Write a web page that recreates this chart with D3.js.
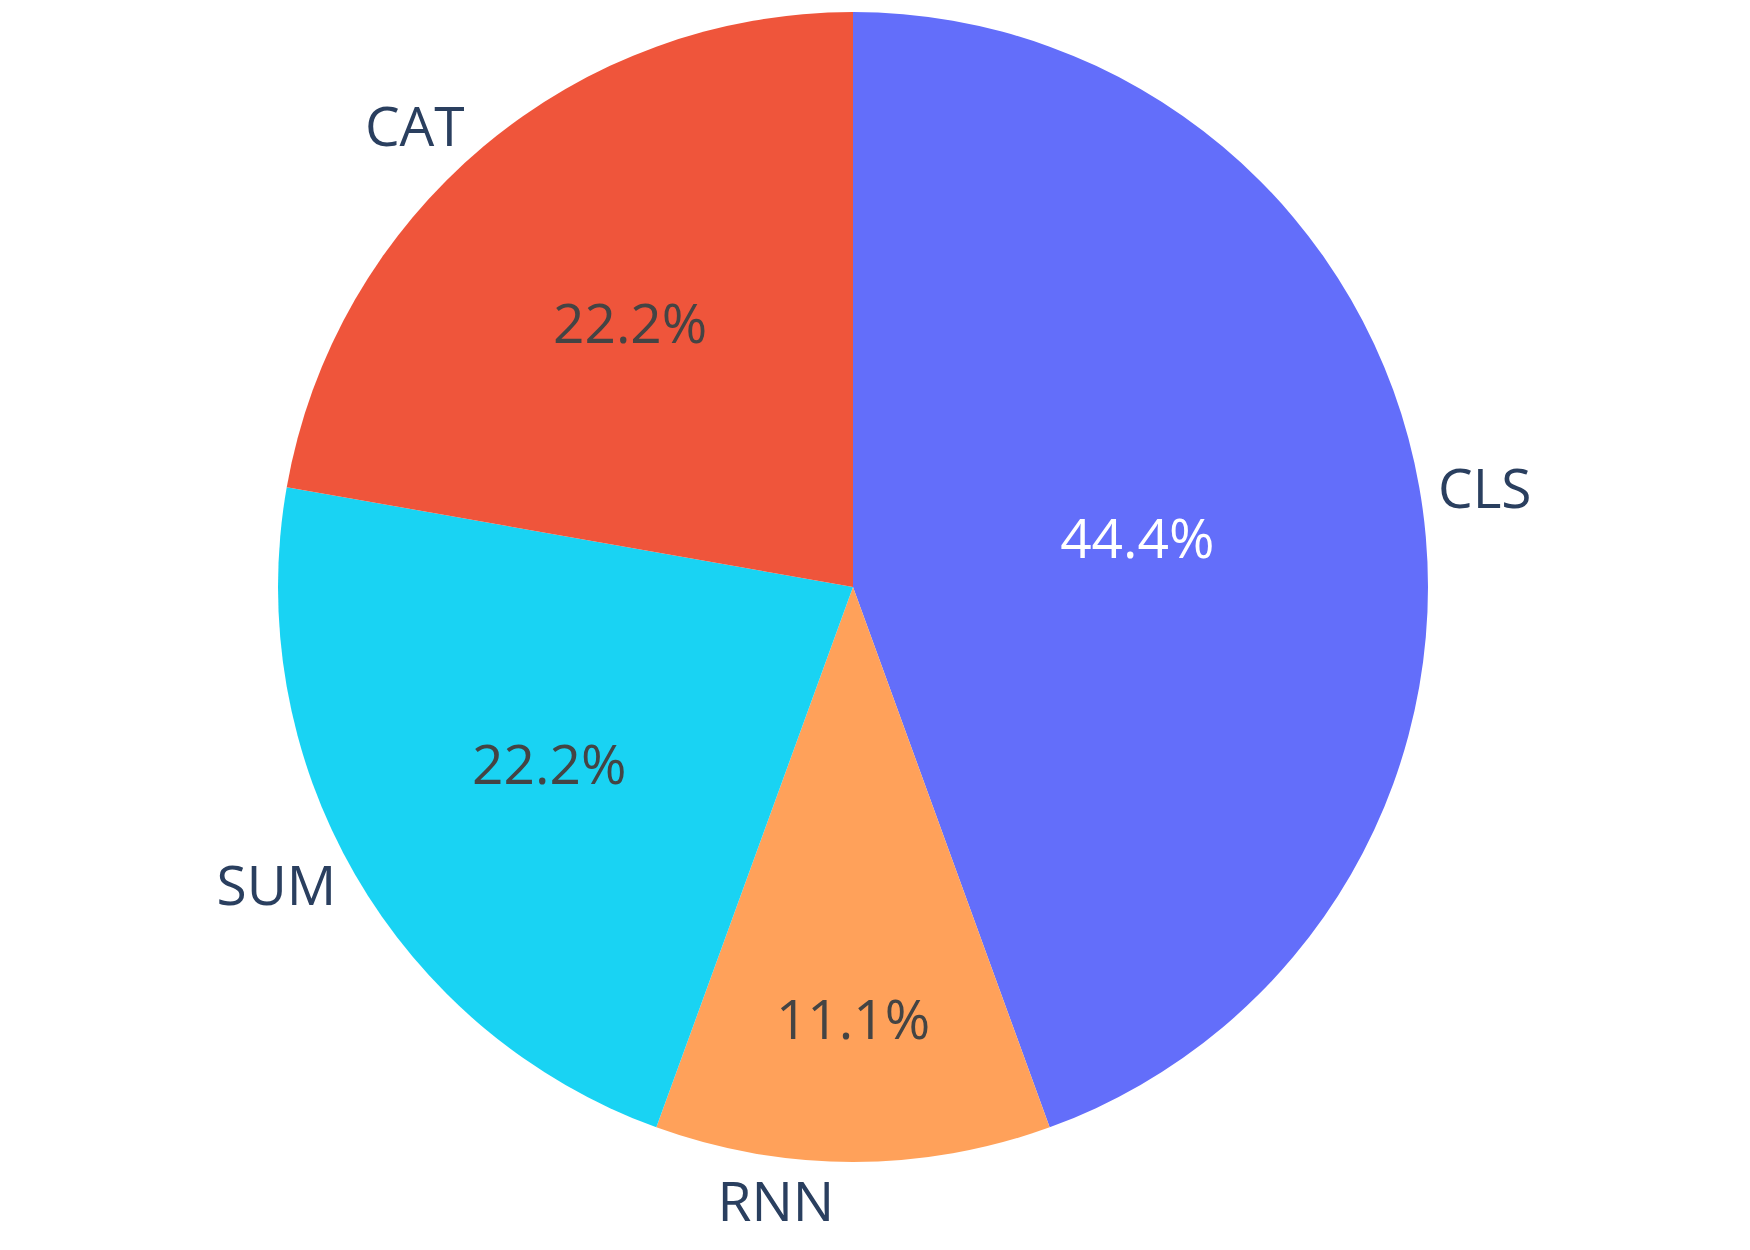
<!DOCTYPE html>
<html>
<head>
<meta charset="utf-8">
<script src="https://cdn.jsdelivr.net/npm/d3@7.9.0/dist/d3.min.js"></script>
<style>
  html, body { margin: 0; padding: 0; background: #fff; }
  svg { display: block; }
</style>
</head>
<body>
<svg id="chart" width="1750" height="1250"></svg>
<script>
// ---- data ----
const labels = ['CLS', 'RNN', 'SUM', 'CAT'];
const counts = [4, 1, 2, 2];
const sliceColors = ['#636efa', '#FFA15A', '#19d3f3', '#EF553B'];

// ---- layout ----
const width = 1750, height = 1250;
const cx = 853, cy = 587, radius = 575;
const fontSize = 55;
// where plotly ended up putting the inside percentage text (fraction of radius)
const insideR = [0.502, 0.748, 0.61, 0.603];

const svg = d3.select('#chart');
const g = svg.append('g').attr('transform', `translate(${cx},${cy})`);

const pie = d3.pie().sort(null).value(d => d.value);
const arc = d3.arc().innerRadius(0).outerRadius(radius);

const rows = labels.map((l, i) => ({ label: l, value: counts[i], color: sliceColors[i], ri: insideR[i] }));
const arcs = pie(rows);
const total = d3.sum(counts);
const fmtPct = d3.format('.1%');

g.selectAll('path.slice')
  .data(arcs)
  .join('path')
  .attr('class', 'slice')
  .attr('d', arc)
  .attr('fill', d => d.data.color);

function midOf(d) { return (d.startAngle + d.endAngle) / 2; }

// place a text so that the centre of its bounding box lands at (x, y)
function centreAt(sel, x, y) {
  sel.each(function () {
    const bb = this.getBBox();
    d3.select(this).attr('transform',
      `translate(${x - (bb.x + bb.width / 2)},${y - (bb.y + bb.height / 2)})`);
  });
}

// percentages inside
arcs.forEach(d => {
  const a = midOf(d);
  const px = Math.sin(a) * radius * d.data.ri;
  const py = -Math.cos(a) * radius * d.data.ri;
  const t = g.append('text')
    .attr('text-anchor', 'middle')
    .style('font-family', '"Open Sans", "Noto Sans", sans-serif')
    .style('font-size', fontSize + 'px')
    .attr('fill', d.data.color === '#636efa' ? '#ffffff' : '#444444')
    .text(fmtPct(d.value / total));
  centreAt(t, px, py);
});

// labels outside, same rule plotly uses for outside text
arcs.forEach(d => {
  const a = midOf(d);
  let x = Math.sin(a) * radius;
  const y = -Math.cos(a) * radius;
  if (Math.abs(x) < 1e-6) x = -1e-6;
  const t = g.append('text')
    .attr('text-anchor', 'middle')
    .style('font-family', '"Open Sans", "Noto Sans", sans-serif')
    .style('font-size', fontSize + 'px')
    .attr('fill', '#2a3f5f')
    .text(d.data.label);
  const bb = t.node().getBBox();
  let dx = bb.width / 2, dy = bb.height / 2;
  if (x < 0) dx *= -1;
  if (y < 0) dy *= -1;
  const ox = dx + Math.abs(dy) * (dx > 0 ? 1 : -1) / 2;
  const oy = dy / (1 + x * x / (y * y));
  centreAt(t, x + ox, y + oy);
});
</script>
</body>
</html>
